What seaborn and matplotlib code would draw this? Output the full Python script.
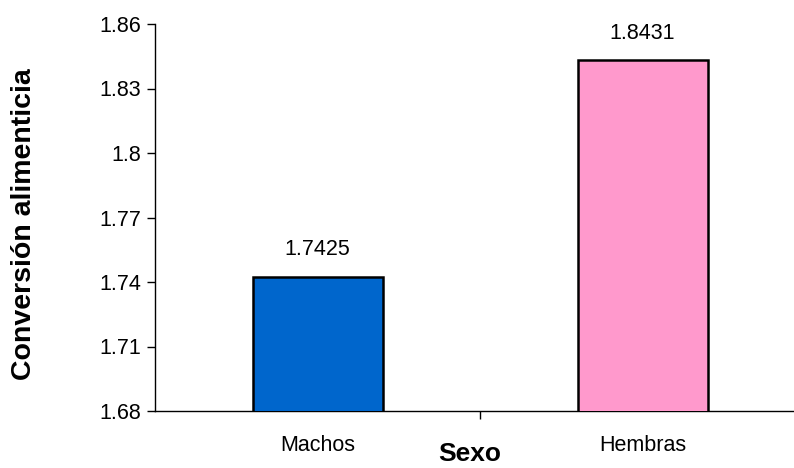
import matplotlib
matplotlib.use("Agg")
import matplotlib.pyplot as plt
from matplotlib.ticker import FuncFormatter, FixedLocator
import seaborn as sns
import pandas as pd

sexo = ["Machos", "Hembras"]
conversion = [1.7425, 1.8431]
bar_colors = ["#0066CC", "#FF99CC"]
y_ticks = [1.68, 1.71, 1.74, 1.77, 1.80, 1.83, 1.86]

sns.set_theme(style="white")
plt.rcParams["font.family"] = ["Liberation Sans", "DejaVu Sans"]

df = pd.DataFrame({"Sexo": sexo, "Conversión": conversion})

fig = plt.figure(figsize=(7.94, 4.68), dpi=100)
ax = fig.add_axes([155 / 794, 1 - 411 / 468, 650 / 794, 387 / 468])

sns.barplot(data=df, x="Sexo", y="Conversión", hue="Sexo", palette=bar_colors,
            saturation=1, width=0.4, edgecolor="black", linewidth=1.8,
            legend=False, ax=ax, zorder=3)

ax.set_xlim(-0.5, 1.5)
ax.set_ylim(1.68, 1.86)
ax.yaxis.set_major_locator(FixedLocator(y_ticks))
ax.yaxis.set_major_formatter(FuncFormatter(lambda v, p: f"{v:g}"))

for side in ("top", "right"):
    ax.spines[side].set_visible(False)
for side in ("left", "bottom"):
    ax.spines[side].set_color("black")
    ax.spines[side].set_linewidth(1.0)

ax.tick_params(axis="y", which="major", direction="out", length=6, width=1,
               color="black", labelsize=15.5, labelcolor="black", pad=4, left=True)
ax.tick_params(axis="x", which="major", length=0, labelsize=15.5,
               labelcolor="black", pad=17)
ax.set_xticks([0.5], minor=True)
ax.tick_params(axis="x", which="minor", direction="out", length=6, width=1,
               color="black", bottom=True)

ax.set_xlabel("")
ax.set_ylabel("")

for i, v in enumerate(conversion):
    ax.annotate(f"{v:.4f}", xy=(i, v), xytext=(0, 12), textcoords="offset points",
                ha="center", va="bottom", fontsize=15.5, color="black")

fig.text(470 / 794, 1 - 461 / 468, "Sexo", ha="center", va="baseline",
         fontsize=19, fontweight="bold", color="black")
fig.text(24 / 794, 1 - 224 / 468, "Conversión alimenticia", ha="center",
         va="center", rotation=90, fontsize=20.5, fontweight="bold", color="black")

fig.savefig("out.png", dpi=100)
